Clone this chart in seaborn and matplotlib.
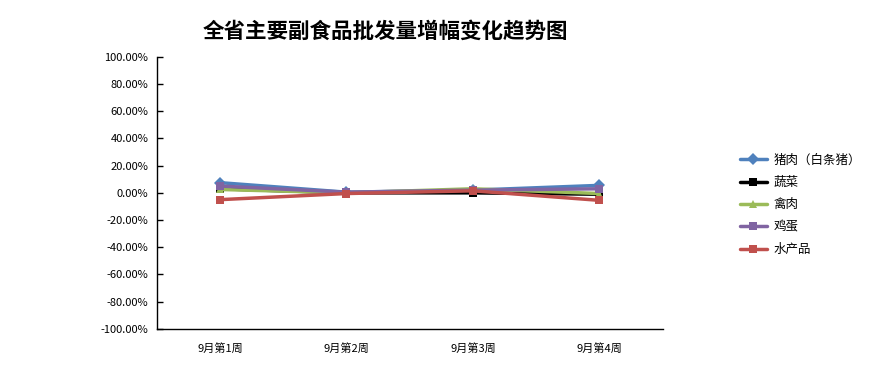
import pandas as pd
import numpy as np
import matplotlib
matplotlib.use("Agg")
import matplotlib.pyplot as plt
import seaborn as sns

# data (percent change)
weeks = ['9月第1周', '9月第2周', '9月第3周', '9月第4周']
pork = [7.5, 0.5, 2.0, 5.5]
vegetables = [3.0, 0.0, 0.0, -1.0]
poultry = [2.5, 0.0, 3.0, -0.5]
eggs = [5.0, 0.5, 2.0, 3.0]
aquatic = [-5.0, -0.5, 1.5, -5.5]

series_names = ['猪肉（白条猪）', '蔬菜', '禽肉', '鸡蛋', '水产品']
series_vals = [pork, vegetables, poultry, eggs, aquatic]
colors = ['#4F81BD', '#000000', '#9BBB59', '#8064A2', '#C0504D']
markers = ['D', 's', '^', 's', 's']

sns.set_style('white')
plt.rcParams['font.family'] = ['Noto Sans CJK SC', 'DejaVu Sans']
plt.rcParams['text.color'] = 'black'
plt.rcParams['xtick.color'] = 'black'
plt.rcParams['ytick.color'] = 'black'

rows = []
for name, vals in zip(series_names, series_vals):
    for i, v in enumerate(vals):
        rows.append({'week': i, 'value': v, 'series': name})
df = pd.DataFrame(rows)

fig = plt.figure(figsize=(8.8, 3.67), dpi=100)
ax = fig.add_axes([0.178, 0.104, 0.575, 0.741])

sns.lineplot(data=df, x='week', y='value', hue='series', style='series',
             hue_order=series_names, style_order=series_names,
             palette=colors, markers=markers, dashes=False,
             linewidth=2.5, markersize=6, markeredgewidth=0,
             ax=ax, legend=True)

ax.set_xlim(-0.5, 3.5)
ax.set_ylim(-100, 100)
ax.set_yticks(np.arange(-100, 101, 20))
ax.set_yticklabels([f'{v:.2f}%' for v in np.arange(-100, 101, 20)], fontsize=8)
ax.set_xticks(range(len(weeks)))
ax.set_xticklabels(weeks, fontsize=8)
ax.set_xticks([0.5, 1.5, 2.5, 3.5], minor=True)
ax.tick_params(axis='x', which='major', length=0, pad=10)
ax.tick_params(axis='x', which='minor', direction='in', length=3, width=1)
ax.tick_params(axis='y', direction='in', length=4, width=1, left=True, pad=6)
ax.set_xlabel('')
ax.set_ylabel('')
for side in ['top', 'right']:
    ax.spines[side].set_visible(False)
for side in ['left', 'bottom']:
    ax.spines[side].set_color('black')
    ax.spines[side].set_linewidth(1)

leg = ax.legend(loc='center left', bbox_to_anchor=(1.13, 0.456), frameon=False,
                fontsize=9, handlelength=2.2, handletextpad=0.5, labelspacing=0.75)

fig.text(0.438, 0.915, '全省主要副食品批发量增幅变化趋势图', ha='center', va='center',
         fontsize=15.5, fontweight='bold')

fig.savefig('out.png', dpi=100)
